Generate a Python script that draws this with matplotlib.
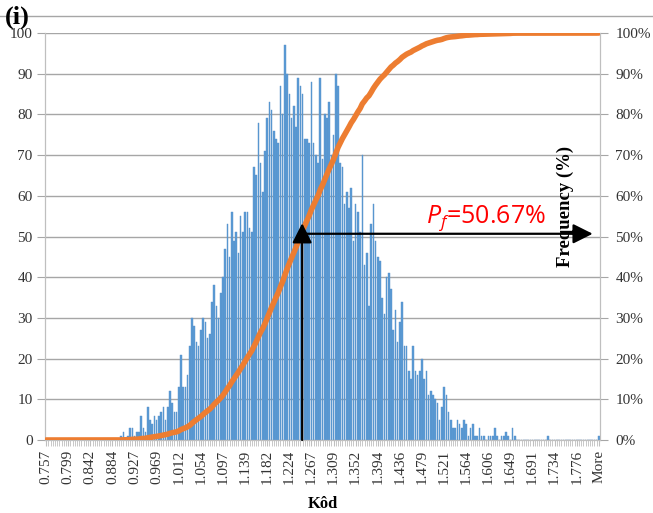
import matplotlib
matplotlib.use("Agg")
import matplotlib.pyplot as plt
import numpy as np
from matplotlib.lines import Line2D
from matplotlib.transforms import IdentityTransform

# Histogram of Kôd: bin counts per category (last category is "More")
tick_labels = ["0.757", "0.799", "0.842", "0.884", "0.927", "0.969", "1.012",
               "1.054", "1.097", "1.139", "1.182", "1.224", "1.267", "1.309",
               "1.352", "1.394", "1.436", "1.479", "1.521", "1.564", "1.606",
               "1.649", "1.691", "1.734", "1.776", "More"]

counts = [
    0, 0, 0, 0, 0, 0, 0, 0, 0, 0,
    0, 0, 0, 0, 0, 0, 0, 0, 0, 0,
    0, 0, 0, 0, 0, 0, 0, 0, 0, 0,
    0, 0, 0, 0, 1, 2, 0, 1, 3, 3,
    1, 2, 2, 6, 3, 2, 8, 5, 4, 6,
    5, 6, 7, 8, 5, 8, 12, 9, 7, 7,
    13, 21, 13, 13, 16, 23, 30, 28, 24, 23,
    27, 30, 29, 25, 26, 34, 38, 33, 30, 36,
    40, 47, 53, 45, 56, 49, 51, 46, 55, 51,
    56, 56, 52, 51, 67, 65, 78, 68, 61, 71,
    79, 83, 81, 76, 74, 73, 87, 80, 97, 90,
    85, 79, 82, 77, 89, 87, 85, 74, 74, 73,
    88, 73, 70, 68, 89, 69, 80, 79, 83, 70,
    75, 90, 87, 68, 67, 58, 61, 57, 62, 49,
    58, 56, 51, 70, 43, 46, 33, 53, 58, 49,
    45, 44, 35, 31, 40, 41, 37, 27, 32, 24,
    29, 34, 23, 23, 17, 15, 23, 17, 16, 17,
    20, 15, 17, 11, 12, 11, 10, 9, 5, 8,
    13, 11, 7, 5, 3, 3, 5, 4, 3, 5,
    4, 1, 3, 4, 1, 1, 3, 1, 1, 0,
    1, 1, 1, 3, 1, 0, 1, 1, 2, 1,
    0, 3, 1, 0, 0, 0, 0, 0, 0, 0,
    0, 0, 0, 0, 0, 0, 0, 1, 0, 0,
    0, 0, 0, 0, 0, 0, 0, 0, 0, 0,
    0, 0, 0, 0, 0, 0, 0, 0, 0, 0,
    1,
]

label_step = 10
pf_value = 50.67      # failure probability, % (cumulative axis)
pf_category = 115.8   # category position of the Pf marker

serif = "Liberation Serif"
grid_col = "#a6a6a6"
axis_col = "#bfbfbf"
text_col = "#333333"

W, H = 653, 513
fig = plt.figure(figsize=(W / 100, H / 100), dpi=100)
ax = fig.add_axes([45 / W, 73 / H, 555 / W, 407 / H])

x = np.arange(len(counts))
ax.bar(x, counts, width=0.72, color="#5B9BD5", edgecolor="#5690C8",
       linewidth=0.3, zorder=2)
ax.set_xlim(-0.5, len(counts) - 0.5)
ax.set_ylim(0, 100)
ax.set_yticks(range(0, 101, 10))
ax.yaxis.grid(True, color=grid_col, lw=1)
ax.set_axisbelow(True)

major = np.arange(0, len(counts), label_step)
ax.set_xticks(major)
ax.set_xticklabels(tick_labels, rotation=90, fontfamily=serif, fontsize=11,
                   color=text_col)
ax.set_xticks(x, minor=True)
ax.tick_params(axis="x", which="both", length=4, color=axis_col, pad=3)
ax.tick_params(axis="y", length=6, color=grid_col, pad=3)
for lab in ax.get_yticklabels():
    lab.set_fontfamily(serif)
    lab.set_fontsize(11)
    lab.set_color(text_col)

ax.spines["top"].set_visible(False)
for side in ("left", "right", "bottom"):
    ax.spines[side].set_color(axis_col)

ax.set_xlabel("Kôd", fontfamily=serif, fontsize=12, fontweight="bold",
              labelpad=9)

# Cumulative percentage on the secondary axis
ax2 = ax.twinx()
cum = np.cumsum(counts) / np.sum(counts) * 100
ax2.plot(x, cum, color="#ED7D31", lw=4, solid_capstyle="round", zorder=3)
ax2.set_ylim(0, 100)
ax2.set_yticks(range(0, 101, 10))
ax2.set_yticklabels([f"{v}%" for v in range(0, 101, 10)],
                    fontfamily=serif, fontsize=11, color=text_col)
ax2.tick_params(axis="y", length=6, color=grid_col, pad=5)
ax2.spines["top"].set_visible(False)
for side in ("left", "right", "bottom"):
    ax2.spines[side].set_color(axis_col)

fig.text(565, H - 206, "Frequency (%)", transform=IdentityTransform(),
         rotation=90, fontfamily=serif, fontsize=13.5, fontweight="bold",
         ha="center", va="center")

# Pf markers
arrow = dict(arrowstyle="-|>,head_length=1.0,head_width=0.5",
             color="black", lw=1.6, shrinkA=0, shrinkB=0, mutation_scale=12)
ax2.annotate("", xy=(pf_category, pf_value + 2.6), xytext=(pf_category, 0),
             arrowprops=arrow, zorder=5)
ax2.annotate("", xy=(247.2, pf_value), xytext=(pf_category, pf_value),
             arrowprops=arrow, zorder=5)

plt.rcParams["mathtext.fontset"] = "custom"
plt.rcParams["mathtext.it"] = "Open Sans:italic"
plt.rcParams["mathtext.rm"] = "Open Sans"
fig.text(426 / W, 1 - 223 / H, r"$P_f$=50.67%", color="red",
         fontfamily="Open Sans", fontsize=18, va="baseline", ha="left")

fig.add_artist(Line2D([0, 1], [1 - 16 / H, 1 - 16 / H], transform=fig.transFigure,
                      color=grid_col, lw=1))
fig.text(5 / W, 1 - 6 / H, "(i)", fontfamily=serif, fontsize=19,
         fontweight="bold", va="top", ha="left")

fig.savefig("out.png", dpi=100)
